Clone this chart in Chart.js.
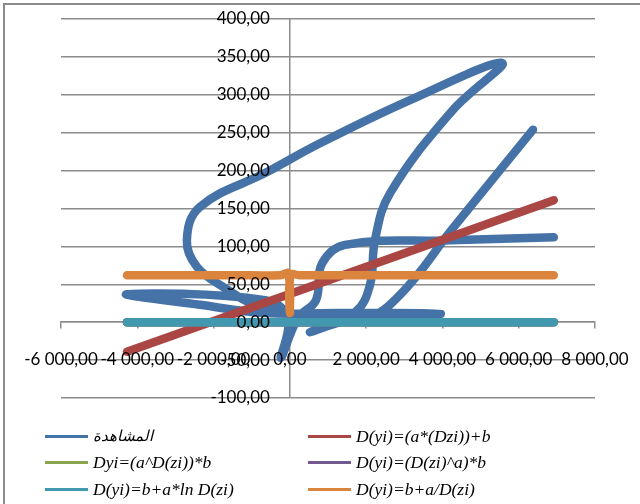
<!DOCTYPE html>
<html lang="ar">
<head>
  <meta charset="UTF-8" />
  <title>المشاهدة والنماذج</title>
  <script src="https://cdn.jsdelivr.net/npm/chart.js"></script>
</head>
<style>
    body {
      margin: 0;
      background: #fff;
    }
    #cadre {
      position: relative;
      width: 640px;
      height: 504px;
      overflow: hidden;
    }
    #bordure {
      position: absolute;
      left: 3px;
      top: 3px;
      width: 700px;
      height: 600px;
      border: 2px solid #8c8c8c;
      box-sizing: border-box;
    }
    #grafico {
      position: absolute;
      left: 0;
      top: 0;
    }
    .item {
      position: absolute;
      height: 22px;
      display: flex;
      align-items: center;
      white-space: nowrap;
    }
    .trait {
      width: 43px;
      height: 3px;
      margin-right: 5px;
    }
    .texte {
      font-family: 'Liberation Serif', 'Times New Roman', serif;
      font-style: italic;
      font-size: 17.5px;
      color: #000;
    }
  </style>
<body>
  <div id="cadre">
    <div id="bordure"></div>
    <canvas id="grafico" width="640" height="504"></canvas>
    <div id="legende"></div>
  </div>
  <script>
    // noms des séries
    const noms = ['المشاهدة', 'D(yi)=(a*(Dzi))+b', 'Dyi=(a^D(zi))*b', 'D(yi)=(D(zi)^a)*b', 'D(yi)=b+a*ln D(zi)', 'D(yi)=b+a/D(zi)'];
    const couleurs = ['#4572A7', '#AA4643', '#89A54E', '#71588F', '#4198AF', '#DB843D'];

    // série observée (ordre des points tel que tracé)
    const obsX = [6920, 4200, 1445, 840, 685, 210, -235, -50, -650, -4270, -2360, -650, 1315, 3960, 1575, 525, 1705, 2100, 2230, 2625, 4275, 5560, 3150, 790, -600, -2360, -2700, -2435, -1700, -915, 265, 1970, 2885, 4275, 6375];
    const obsY = [112, 108, 102, 77, 29, 5.5, -47, 5.5, 29, 37, 23, 12, 12, 11, 3, -13, 13, 49, 108, 170, 280, 342, 293, 236, 198, 152, 108, 73, 45, 23, 9.5, 5.5, 36, 124, 254];

    // modèles ajustés
    const linX = [-4270, 6920];
    const linY = [-39, 161];
    const expX = [-4270, 6920];
    const expY = [0, 0];
    const puiX = [-4270, 6920];
    const puiY = [0, 0];
    const logX = [-4270, 6920];
    const logY = [0, 0];
    const invX = [-4270, -1500, -250, -40, 0, 20, 250, 1500, 6920];
    const invY = [62, 62, 62, 64, 12, 62, 62, 62, 62];

    const seriesX = [obsX, linX, expX, puiX, logX, invX];
    const seriesY = [obsY, linY, expY, puiY, logY, invY];

    function formatNombre(v) {
      const parts = Math.abs(v).toFixed(2).split('.');
      const entier = parts[0].replace(/\B(?=(\d{3})+(?!\d))/g, ' ');
      return (v < 0 ? '-' : '') + entier + ',' + parts[1];
    }

    // les axes placés sur une valeur ne doivent pas réduire la zone du tracé
    function sansMarge(scale) {
      scale.paddingTop = 0;
      scale.paddingBottom = 0;
      scale.paddingLeft = 0;
      scale.paddingRight = 0;
    }

    const datasets = seriesX.map((xs, i) => ({
      label: noms[i],
      data: xs.map((x, j) => ({ x: x, y: seriesY[i][j] })),
      showLine: true,
      borderColor: couleurs[i],
      backgroundColor: couleurs[i],
      borderWidth: 8.5,
      borderCapStyle: 'round',
      borderJoinStyle: 'round',
      pointRadius: 0,
      tension: 0.4,
      fill: false,
      order: 6 - i
    }));

    const police = { family: "Lato, 'Liberation Sans', sans-serif", size: 17 };
    const gris = '#8c8c8c';

    new Chart(document.getElementById('grafico').getContext('2d'), {
      type: 'scatter',
      data: { datasets: datasets },
      options: {
        responsive: false,
        animation: false,
        devicePixelRatio: 1,
        layout: { padding: { left: 61, right: 45, top: 19, bottom: 106 } },
        plugins: {
          legend: { display: false },
          tooltip: { enabled: false }
        },
        scales: {
          x: {
            type: 'linear',
            min: -6000,
            max: 8000,
            position: { y: 0 },
            afterFit: sansMarge,
            ticks: {
              stepSize: 2000,
              autoSkip: false,
              maxRotation: 0,
              minRotation: 0,
              padding: 21,
              z: 1,
              color: '#000',
              font: police,
              callback: v => formatNombre(v)
            },
            // seule la ligne verticale en x = 0 sert d'axe des y
            grid: {
              color: c => (c.tick && c.tick.value === 0 ? gris : 'rgba(0,0,0,0)'),
              tickColor: gris,
              tickLength: 6,
              lineWidth: 1.5
            },
            border: { color: gris, width: 1.5 }
          },
          y: {
            type: 'linear',
            min: -100,
            max: 400,
            // étiquettes décalées à gauche de l'axe
            position: { x: -524 },
            afterFit: sansMarge,
            ticks: {
              stepSize: 50,
              z: 1,
              color: '#000',
              font: police,
              callback: v => formatNombre(v)
            },
            grid: { color: gris, lineWidth: 1.5, drawTicks: false },
            border: { display: false }
          }
        }
      }
    });

    // légende sur deux colonnes
    const colonnesX = [45, 308];
    const lignesY = [436, 462, 489];
    const legende = document.getElementById('legende');
    noms.forEach((nom, i) => {
      const item = document.createElement('div');
      item.className = 'item';
      item.style.left = colonnesX[i % 2] + 'px';
      item.style.top = (lignesY[Math.floor(i / 2)] - 11) + 'px';
      const trait = document.createElement('div');
      trait.className = 'trait';
      trait.style.background = couleurs[i];
      const texte = document.createElement('span');
      texte.className = 'texte';
      texte.textContent = nom;
      if (i === 0) {
        texte.dir = 'rtl';
        texte.style.fontSize = '15px';
      }
      item.appendChild(trait);
      item.appendChild(texte);
      legende.appendChild(item);
    });
  </script>
</body>
</html>
